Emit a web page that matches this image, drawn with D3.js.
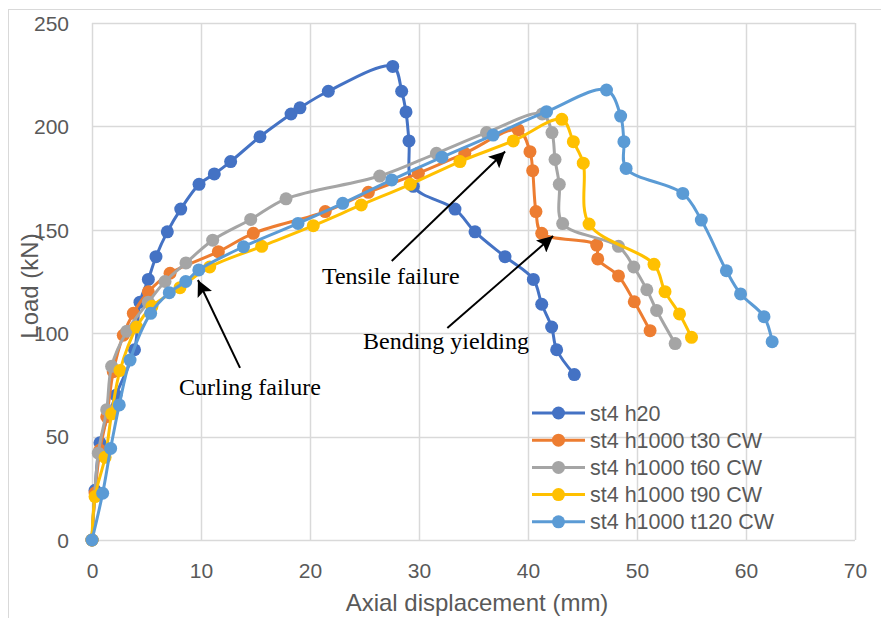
<!DOCTYPE html>
<html>
<head>
<meta charset="utf-8">
<script src="https://cdn.jsdelivr.net/npm/d3@7"></script>
<style>
	body { margin: 0; background: white; }
	svg { display: block; }
</style>
</head>
<body>
<svg id="chart" width="881" height="618"></svg>
<script>
const seriesNames = ["st4 h20", "st4 h1000 t30 CW", "st4 h1000 t60 CW", "st4 h1000 t90 CW", "st4 h1000 t120 CW"];
const colors = ["#4472C4", "#ED7D31", "#A5A5A5", "#FFC000", "#5B9BD5"];

const xH20 = [0, 0.28, 0.73, 2.2, 3.9, 4.4, 5.17, 5.87, 6.91, 8.14, 9.82, 11.22, 12.72, 15.41, 18.26, 19.08, 21.68, 27.59, 28.41, 28.81, 29.08, 29.48, 33.3, 35.14, 37.89, 40.49, 41.26, 42.17, 42.63, 44.25];
const yH20 = [0, 24, 47, 70, 92, 115, 126, 137, 149, 160, 172, 177, 183, 195, 206, 209, 217, 229, 217, 207, 193, 171, 160, 149, 137, 126, 114, 103, 92, 80];

const xT30 = [0, 0.28, 0.73, 1.35, 1.95, 2.87, 3.79, 5.17, 7.16, 11.59, 14.8, 21.4, 25.35, 29.94, 34.2, 39.1, 40.18, 40.43, 40.73, 41.26, 46.3, 46.4, 48.3, 49.75, 51.2];
const yT30 = [0, 22.7, 43.5, 59.6, 81.4, 99, 109.6, 120, 129, 139.4, 148.3, 158.8, 168.1, 177.3, 187, 198.3, 187.8, 178.6, 158.8, 148.3, 142.6, 135.9, 127.7, 115.2, 101.2];

const xT60 = [0, 0.58, 1.35, 1.8, 3.2, 5.17, 6.7, 8.62, 11.07, 14.56, 17.8, 26.4, 31.6, 36.2, 41.3, 42.2, 42.48, 42.87, 43.18, 48.3, 49.7, 50.9, 51.8, 53.5];
const yT60 = [0, 42, 63, 84, 101, 115, 125, 134, 145, 155, 165, 176, 187, 197, 206, 197, 184, 172, 153, 142, 132, 121, 111, 95];

const xT90 = [0, 0.28, 1.2, 1.8, 2.57, 4.1, 5.5, 8.07, 10.8, 15.57, 20.3, 24.7, 29.2, 33.76, 38.65, 43.1, 44.16, 45.07, 45.6, 51.56, 52.57, 53.9, 55.0];
const yT90 = [0, 21, 40, 61, 82, 103, 113, 122, 132, 142, 152, 162, 172, 183, 193, 203.4, 192.6, 182.2, 152.8, 133.3, 120.1, 109.3, 98];

const xT120 = [0, 0.98, 1.71, 2.5, 3.49, 5.38, 7.09, 8.6, 9.8, 13.9, 18.9, 23.0, 27.5, 32.1, 36.8, 41.7, 47.2, 48.5, 48.8, 49.0, 54.2, 55.9, 58.2, 59.5, 61.65, 62.4];
const yT120 = [0, 22.6, 44.3, 65.3, 87, 109.6, 119.6, 125, 130.6, 141.8, 153.1, 162.8, 174.1, 185.1, 195.8, 207.1, 217.6, 205, 192.6, 179.7, 167.6, 154.7, 130.2, 119, 108, 95.9];

const xTicks = [0, 10, 20, 30, 40, 50, 60, 70];
const yTicks = [0, 50, 100, 150, 200, 250];

// annotation text + arrow (data units)
const notes = [
	{ text: "Tensile failure", x: 21.1, y: 123.8, from: [27.5, 134.9], to: [37.9, 187.9] },
	{ text: "Bending yielding", x: 24.86, y: 92.3, from: [32.6, 102.5], to: [42.3, 147] },
	{ text: "Curling failure", x: 7.98, y: 70.1, from: [13.58, 83.2], to: [9.72, 125.7] },
];

const xs = [xH20, xT30, xT60, xT90, xT120];
const ys = [yH20, yT30, yT60, yT90, yT120];
const series = seriesNames.map((name, i) => ({
	name,
	color: colors[i],
	points: xs[i].map((x, j) => ({ x, y: ys[i][j] })),
}));

const svg = d3.select("#chart");
const x = d3.scaleLinear([0, 70], [92, 855]);
const y = d3.scaleLinear([0, 250], [540, 23]);
const tickFont = "'Liberation Sans', Arial, sans-serif";

// outer chart border
svg.append("rect")
	.attr("x", 8.5).attr("y", 9.5)
	.attr("width", 900).attr("height", 700)
	.attr("fill", "none")
	.attr("stroke", "#D9D9D9");

// grid
svg.append("g")
	.selectAll("line")
	.data(yTicks)
	.join("line")
	.attr("x1", x(0)).attr("x2", x(70))
	.attr("y1", (d) => Math.round(y(d)) + 0.5).attr("y2", (d) => Math.round(y(d)) + 0.5)
	.attr("stroke", "#D9D9D9").attr("stroke-width", 1.5);
svg.append("g")
	.selectAll("line")
	.data(xTicks)
	.join("line")
	.attr("y1", y(0)).attr("y2", y(250))
	.attr("x1", (d) => Math.round(x(d)) + 0.5).attr("x2", (d) => Math.round(x(d)) + 0.5)
	.attr("stroke", "#D9D9D9").attr("stroke-width", 1.5);

// tick labels
const xAxis = svg.append("g")
	.attr("transform", `translate(0,${y(0)})`)
	.call(d3.axisBottom(x).tickValues(xTicks).tickSize(0));
const yAxis = svg.append("g")
	.attr("transform", `translate(69,0)`)
	.call(d3.axisLeft(y).tickValues(yTicks).tickSize(0).tickPadding(0));
[xAxis, yAxis].forEach((a) => {
	a.select(".domain").remove();
	a.selectAll("text")
		.attr("fill", "#595959")
		.style("font-family", tickFont)
		.style("font-size", "21px");
});
yAxis.selectAll("text").attr("dy", "0.35em");
xAxis.selectAll("text").attr("dy", "0.35em").attr("y", 31);

svg.append("text")
	.attr("x", 477).attr("y", 603)
	.attr("text-anchor", "middle").attr("dy", "0.35em")
	.attr("fill", "#595959")
	.style("font-family", tickFont).style("font-size", "24px")
	.text("Axial displacement (mm)");
svg.append("text")
	.attr("transform", "translate(30,286) rotate(-90)")
	.attr("text-anchor", "middle").attr("dy", "0.35em")
	.attr("fill", "#595959")
	.style("font-family", tickFont).style("font-size", "24px")
	.text("Load (kN)");

// series
const line = d3.line().x((d) => x(d.x)).y((d) => y(d.y)).curve(d3.curveCatmullRom.alpha(0.5));
const groups = svg.append("g")
	.selectAll("g")
	.data(series)
	.join("g");
groups.append("path")
	.attr("d", (d) => line(d.points))
	.attr("fill", "none")
	.attr("stroke", (d) => d.color)
	.attr("stroke-width", 3);
groups.selectAll("circle")
	.data((d) => d.points.map((p) => ({ ...p, color: d.color })))
	.join("circle")
	.attr("cx", (d) => x(d.x)).attr("cy", (d) => y(d.y))
	.attr("r", 6.5)
	.attr("fill", (d) => d.color);

// annotations
svg.append("defs")
	.append("marker")
	.attr("id", "head")
	.attr("viewBox", "0 0 10 10")
	.attr("refX", 10).attr("refY", 5)
	.attr("markerWidth", 8).attr("markerHeight", 8)
	.attr("markerUnits", "strokeWidth")
	.attr("orient", "auto")
	.append("path")
	.attr("d", "M0,0L10,5L0,10L2,5Z")
	.attr("fill", "black");
const noteG = svg.append("g").selectAll("g").data(notes).join("g");
noteG.append("line")
	.attr("x1", (d) => x(d.from[0])).attr("y1", (d) => y(d.from[1]))
	.attr("x2", (d) => x(d.to[0])).attr("y2", (d) => y(d.to[1]))
	.attr("stroke", "black").attr("stroke-width", 2)
	.attr("marker-end", "url(#head)");
noteG.append("text")
	.attr("x", (d) => x(d.x)).attr("y", (d) => y(d.y))
	.style("font-family", "'Liberation Serif', 'Times New Roman', serif")
	.style("font-size", "24px")
	.attr("fill", "black")
	.text((d) => d.text);

// legend
const legend = svg.append("g")
	.selectAll("g")
	.data(series)
	.join("g")
	.attr("transform", (d, i) => `translate(532,${413 + i * 27.2})`);
legend.append("line")
	.attr("x1", 0).attr("x2", 53)
	.attr("stroke", (d) => d.color).attr("stroke-width", 3);
legend.append("circle")
	.attr("cx", 26.5).attr("r", 6.5)
	.attr("fill", (d) => d.color);
legend.append("text")
	.attr("x", 58).attr("dy", "0.35em")
	.attr("fill", "#595959")
	.style("font-family", tickFont).style("font-size", "21.5px")
	.text((d) => d.name);
</script>
</body>
</html>
